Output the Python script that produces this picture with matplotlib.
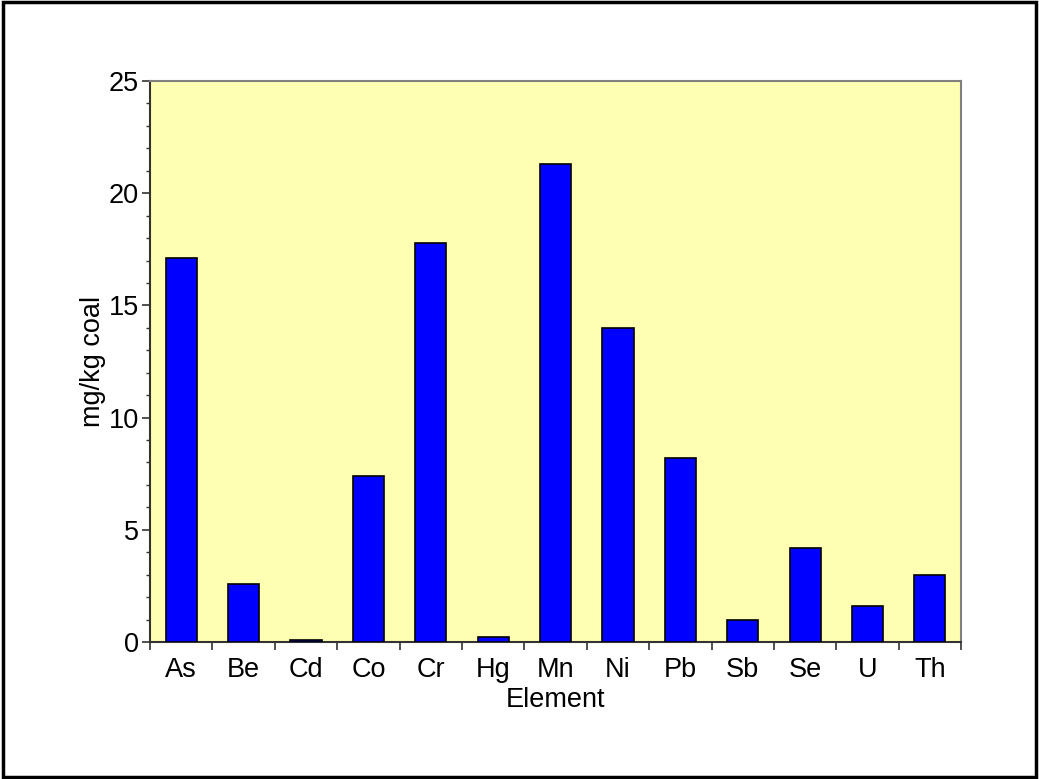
import numpy as np
import matplotlib.pyplot as plt
from matplotlib.patches import Rectangle
from matplotlib.ticker import MultipleLocator

plt.rcParams['font.family'] = ['Liberation Sans', 'DejaVu Sans']

elements = ['As', 'Be', 'Cd', 'Co', 'Cr', 'Hg', 'Mn', 'Ni', 'Pb', 'Sb', 'Se', 'U', 'Th']
mg_per_kg = [17.1, 2.6, 0.1, 7.4, 17.8, 0.2, 21.3, 14.0, 8.2, 1.0, 4.2, 1.6, 3.0]

fig = plt.figure(figsize=(10.39, 7.79), dpi=100)
ax = fig.add_axes([0.1444, 0.1759, 0.7806, 0.7201])
ax.set_facecolor('#ffffb3')

x = np.arange(len(elements))
ax.bar(x, mg_per_kg, width=0.5, color='#0000ff', edgecolor='black', linewidth=1.2, zorder=3)

ax.set_xlim(-0.5, len(elements) - 0.5)
ax.set_ylim(0, 25)

# category labels centred on bars, tick marks on the boundaries between them
ax.set_xticks(x)
ax.set_xticklabels(elements, fontsize=19.5)
ax.tick_params(axis='x', which='major', length=0, pad=11)
ax.set_xticks(np.arange(-0.5, len(elements)), minor=True)
ax.tick_params(axis='x', which='minor', length=5.5, width=1.2, direction='out', color='#333333')

ax.yaxis.set_major_locator(MultipleLocator(5))
ax.yaxis.set_minor_locator(MultipleLocator(1))
ax.tick_params(axis='y', which='major', length=6, width=1.2, labelsize=19.5, pad=2, color='#333333')
ax.tick_params(axis='y', which='minor', length=3, width=1.0, color='#333333')

for side in ['left', 'bottom']:
    ax.spines[side].set_color('#333333')
    ax.spines[side].set_linewidth(1.5)
for side in ['top', 'right']:
    ax.spines[side].set_color('#808080')
    ax.spines[side].set_linewidth(1.5)

ax.set_xlabel('Element', fontsize=19.5, labelpad=3)
ax.set_ylabel('mg/kg coal', fontsize=19.5, labelpad=2)

# black frame around the whole figure
fig.patches.append(Rectangle((0.003, 0.003), 0.994, 0.994, transform=fig.transFigure,
                             fill=False, edgecolor='black', linewidth=2.5))

fig.savefig('out.png', dpi=100)
